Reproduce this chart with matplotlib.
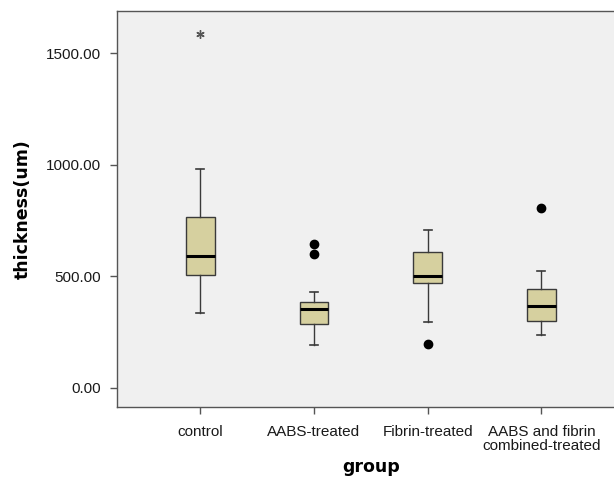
import matplotlib
matplotlib.use("Agg")
from matplotlib import pyplot as plt

# values (um)
groups = ["control", "AABS-treated", "Fibrin-treated", "AABS and fibrin\ncombined-treated"]
whisker_low = [337, 190, 293, 235]
q1 = [507, 287, 471, 301]
median = [591, 355, 500, 367]
q3 = [766, 383, 608, 443]
whisker_high = [981, 430, 709, 525]
# circles = outliers, star = extreme value
outliers = [[], [646, 599], [197], [808]]
extremes = [[1587], [], [], []]

stats = []
for i, name in enumerate(groups):
    stats.append({"label": name, "whislo": whisker_low[i], "q1": q1[i], "med": median[i],
                  "q3": q3[i], "whishi": whisker_high[i], "fliers": []})

fig = plt.figure(figsize=(6.14, 4.78), dpi=100)
ax = fig.add_axes([0.191, 0.148, 0.826, 0.830])
ax.set_facecolor("#f0f0f0")

edge = "#3a3a3a"
ax.bxp(stats, positions=[1, 2, 3, 4], widths=0.255, patch_artist=True, showfliers=False,
       boxprops=dict(facecolor="#d6d09f", edgecolor=edge, linewidth=1.0),
       medianprops=dict(color="black", linewidth=2.2),
       whiskerprops=dict(color=edge, linewidth=1.0),
       capprops=dict(color=edge, linewidth=1.2), capwidths=0.07)

for i in range(len(groups)):
    if outliers[i]:
        ax.plot([i + 1] * len(outliers[i]), outliers[i], "o", color="black", markersize=6)
    if extremes[i]:
        ax.plot([i + 1] * len(extremes[i]), extremes[i], marker=(6, 2, 0), linestyle="none",
                color="#555555", markersize=6, markeredgewidth=1.0)

ax.set_xlim(0.27, 4.73)
ax.set_ylim(-88, 1692)
ax.set_yticks([0, 500, 1000, 1500])
ax.set_yticklabels(["0.00", "500.00", "1000.00", "1500.00"])

for s in ax.spines.values():
    s.set_color("#555555")
    s.set_linewidth(1.0)

ax.tick_params(axis="both", direction="out", length=5, color="#555555", width=1.0)
ax.tick_params(axis="y", labelsize=11, pad=7)
ax.tick_params(axis="x", labelsize=11, pad=8)
for lab in ax.get_xticklabels() + ax.get_yticklabels():
    lab.set_family("Liberation Sans")
    lab.set_color("#1a1a1a")
for lab in ax.get_xticklabels():
    lab.set_linespacing(0.95)

ax.set_ylabel("thickness(um)", fontsize=12.5, fontweight="bold", labelpad=10)
ax.set_xlabel("group", fontsize=12.5, fontweight="bold", labelpad=4)

fig.savefig("out.png", dpi=100)
